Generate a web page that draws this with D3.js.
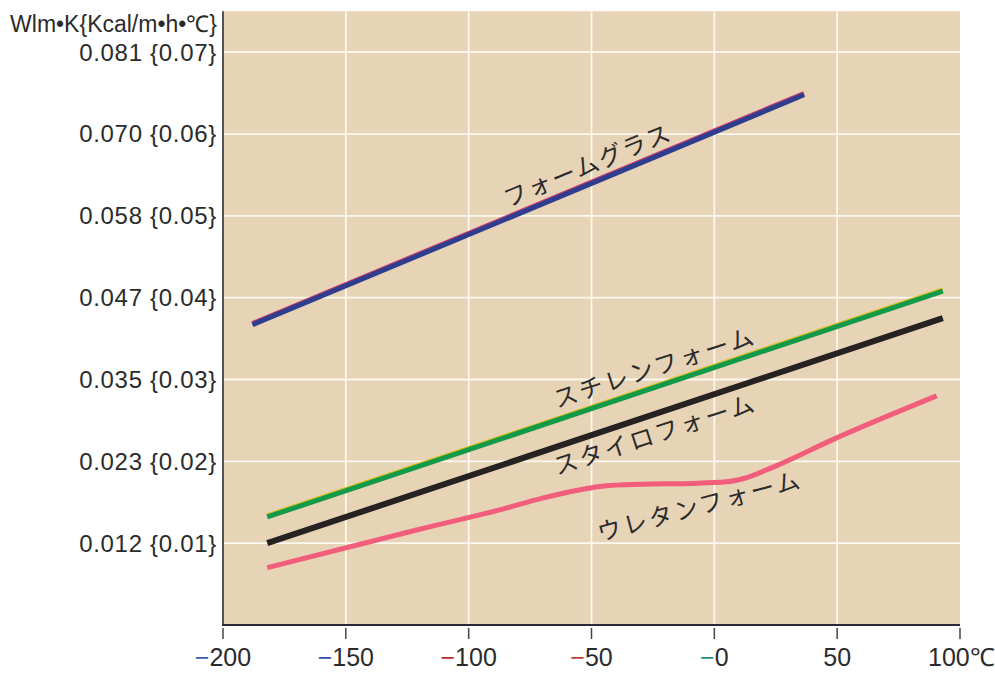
<!DOCTYPE html>
<html>
<head>
<meta charset="utf-8">
<script src="https://cdn.jsdelivr.net/npm/d3@7"></script>
<style>
  body { margin: 0; background: #fff; }
  svg { display: block; }
  text { font-family: "Liberation Sans", Arial, sans-serif; fill: #2b2b2b; }
  .jp { font-family: "Noto Sans CJK JP", sans-serif; }
</style>
</head>
<body>
<div id="grafico"></div>
<script>
// Datos (temperatura en °C, conductividad en kcal/m·h·°C)
const xTicks = [-200, -150, -100, -50, 0, 50, 100];
const xTickLabels = ["200", "150", "100", "50", "0", "50", "100℃"];
const xMinusColors = ["#3b5bb0", "#2f4fa8", "#b0302a", "#c0403a", "#2a8a8a", null, null];

const yTicks = [0.01, 0.02, 0.03, 0.04, 0.05, 0.06, 0.07];
const yTickW = ["0.012", "0.023", "0.035", "0.047", "0.058", "0.070", "0.081"];
const yTickKcal = ["0.01", "0.02", "0.03", "0.04", "0.05", "0.06", "0.07"];

const foamGlass = [[-188, 0.0367], [36.5, 0.0648]];
const styreneFoam = [[-182, 0.0132], [93, 0.0408]];
const styroFoam = [[-182, 0.0100], [93, 0.0375]];
const urethaneFoam = [
  [-182, 0.0070], [-120, 0.0117], [-87, 0.0141], [-70, 0.0155], [-55, 0.0165],
  [-45, 0.0170], [-30, 0.0172], [-10, 0.0173], [5, 0.0175], [12, 0.0179],
  [24, 0.0193], [50, 0.0229], [90.5, 0.0280]
];

// Etiquetas de las curvas (posición en unidades de datos)
const curveLabels = [
  { text: "フォームグラス", x: -84, y: 0.0510, angle: -22.5, spacing: 1.8 },
  { text: "スチレンフォーム", x: -64, y: 0.0265, angle: -18, spacing: 2.5 },
  { text: "スタイロフォーム", x: -64, y: 0.0183, angle: -18, spacing: 2.5 },
  { text: "ウレタンフォーム", x: -46.5, y: 0.0102, angle: -15, spacing: 2.5 }
];

const width = 995;
const height = 673;

const svg = d3.select("#grafico")
    .append("svg")
    .attr("width", width)
    .attr("height", height);

const x = d3.scaleLinear().domain([-200, 100]).range([223, 960]);
const y = d3.scaleLinear().domain([0, 0.075]).range([625, 11.3]);

// Fondo del área de trazado
svg.append("rect")
    .attr("x", x(-200))
    .attr("y", y(0.075))
    .attr("width", x(100) - x(-200))
    .attr("height", y(0) - y(0.075))
    .attr("fill", "#e7d3b6");

// Rejilla blanca
svg.append("g").selectAll("line")
    .data(xTicks.slice(1, -1))
    .enter().append("line")
    .attr("x1", d => x(d)).attr("x2", d => x(d))
    .attr("y1", y(0.075)).attr("y2", y(0))
    .attr("stroke", "#fbf8f0").attr("stroke-width", 1.8);

svg.append("g").selectAll("line")
    .data(yTicks)
    .enter().append("line")
    .attr("x1", x(-200)).attr("x2", x(100))
    .attr("y1", d => y(d)).attr("y2", d => y(d))
    .attr("stroke", "#fbf8f0").attr("stroke-width", 1.8);

// Ejes
svg.append("line")
    .attr("x1", x(-200)).attr("x2", x(-200))
    .attr("y1", y(0.075)).attr("y2", y(0))
    .attr("stroke", "#555").attr("stroke-width", 2);

svg.append("line")
    .attr("x1", x(-200) - 1).attr("x2", x(100))
    .attr("y1", y(0)).attr("y2", y(0))
    .attr("stroke", "#2a2a3a").attr("stroke-width", 2);

// Marcas y etiquetas del eje X
const xg = svg.append("g").selectAll("g")
    .data(xTicks)
    .enter().append("g");

xg.append("line")
    .attr("x1", d => x(d)).attr("x2", d => x(d))
    .attr("y1", y(0) + 3).attr("y2", y(0) + 14)
    .attr("stroke", "#444").attr("stroke-width", 1.5);

xg.append("text")
    .attr("x", (d, i) => i === xTicks.length - 1 ? x(d) - 32 : x(d))
    .attr("y", 666)
    .attr("text-anchor", (d, i) => i === xTicks.length - 1 ? "start" : "middle")
    .attr("font-size", 25)
    .each(function(d, i) {
        const t = d3.select(this);
        if (xMinusColors[i]) {
            t.append("tspan").text("−").style("fill", xMinusColors[i]);
        }
        t.append("tspan").text(xTickLabels[i]);
    });

// Etiquetas del eje Y
svg.append("g").selectAll("text")
    .data(yTicks)
    .enter().append("text")
    .attr("x", 217)
    .attr("y", d => y(d))
    .attr("dy", "0.35em")
    .attr("text-anchor", "end")
    .attr("font-size", 24)
    .attr("letter-spacing", 0.7)
    .text((d, i) => `${yTickW[i]} {${yTickKcal[i]}}`);

// Título del eje Y (unidades)
svg.append("text")
    .attr("x", 217)
    .attr("y", 32)
    .attr("text-anchor", "end")
    .attr("font-size", 23)
    .text("Wlm•K{Kcal/m•h•℃}");

// Curvas
const line = d3.line()
    .x(d => x(d[0]))
    .y(d => y(d[1]));

const curve = d3.line()
    .x(d => x(d[0]))
    .y(d => y(d[1]))
    .curve(d3.curveMonotoneX);

function drawLine(data, gen, color, w, edge, offset) {
    if (edge) {
        svg.append("path")
            .attr("d", gen(data))
            .attr("transform", `translate(0,${offset})`)
            .attr("fill", "none")
            .attr("stroke", edge)
            .attr("stroke-width", w);
    }
    svg.append("path")
        .attr("d", gen(data))
        .attr("fill", "none")
        .attr("stroke", color)
        .attr("stroke-width", w);
}

drawLine(foamGlass, line, "#2f3d8f", 5, "#c83a6e", -1.2);
drawLine(styreneFoam, line, "#129a4a", 5, "#d8c020", -1.2);
drawLine(styroFoam, line, "#262222", 6);
drawLine(urethaneFoam, curve, "#f25d7b", 5);

// Nombres de las curvas
svg.append("g").selectAll("text")
    .data(curveLabels)
    .enter().append("text")
    .attr("class", "jp")
    .attr("transform", d => `translate(${x(d.x)},${y(d.y)}) rotate(${d.angle})`)
    .attr("font-size", 24)
    .attr("letter-spacing", d => d.spacing)
    .text(d => d.text);
</script>
</body>
</html>
